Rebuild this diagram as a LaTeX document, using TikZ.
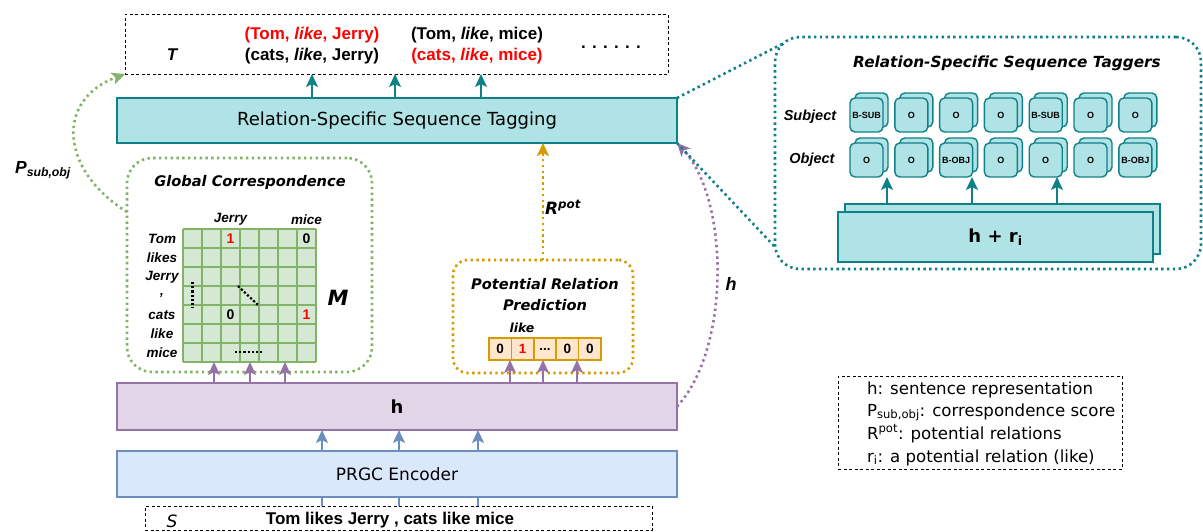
\documentclass[tikz,border=0pt]{standalone}
\usepackage{fontspec}
\setmainfont{Liberation Sans}
\newfontfamily\comicfont{DejaVu Sans}
\usetikzlibrary{arrows.meta,calc}

\definecolor{tealfill}{HTML}{B0E3E6}
\definecolor{tealline}{HTML}{0E8088}
\definecolor{purpfill}{HTML}{E1D5E7}
\definecolor{purpline}{HTML}{9673A6}
\definecolor{bluefill}{HTML}{DAE8FC}
\definecolor{blueline}{HTML}{6C8EBF}
\definecolor{grnfill}{HTML}{D5E8D4}
\definecolor{grnline}{HTML}{82B366}
\definecolor{orgfill}{HTML}{FFE6CC}
\definecolor{orgline}{HTML}{D79B00}
\definecolor{redtxt}{HTML}{FF0000}

\newcommand{\fsz}[1]{\fontsize{#1}{#1}\selectfont}
\newcommand{\celldots}{...}

\tikzset{
  layerbox/.style={draw=#1line,fill=#1fill,line width=1.8pt,minimum width=560pt,minimum height=45pt,
    font=\comicfont\fsz{18}},
  dashbox/.style={draw,dash pattern=on 3pt off 2.5pt,line width=1pt},
  dotline/.style={line width=2.6pt,dash pattern=on 2.4pt off 3.4pt},
  tip/.style={-{Stealth[length=13pt,width=12pt,inset=3pt]}},
  arr/.style={tip,line width=1.8pt},
  tagbox/.style={draw=tealline,fill=tealfill,line width=1.4pt,rounded corners=5pt,
    minimum width=33pt,minimum height=34pt,font=\fsz{9}\bfseries},
  title/.style={font=\comicfont\bfseries\itshape\fsz{14.6}},
  wlab/.style={font=\fsz{13.5}\bfseries\itshape}
}

\begin{document}
\begin{tikzpicture}[x=1pt,y=-1pt,every node/.style={inner sep=0pt,outer sep=0pt}]
\useasboundingbox (0,0) rectangle (1203,531);

\node[dashbox,minimum width=543pt,minimum height=60pt] (T) at (396.5,44) {};
\node[font=\fsz{17}\bfseries\itshape] (tlab) at (172,55) {T};
\begin{scope}[every node/.append style={font=\fsz{17}\bfseries}]
\node[text=redtxt] (tr1) at (312,35) {(Tom, \textit{like}, Jerry)};
\node (tr2) at (312,56) {(cats, \textit{like}, Jerry)};
\node (tr3) at (477,35) {(Tom, \textit{like}, mice)};
\node[text=redtxt] (tr4) at (477,56) {(cats, \textit{like}, mice)};
\node (more) at (611,47) {. . . . . .};
\end{scope}

\node[layerbox=teal] (rsst) at (397,120.5) {Relation-Specific Sequence Tagging};
\node[layerbox=purp,minimum height=47pt] (h) at (397,406.5) {\bfseries h};
\node[layerbox=blue,minimum height=46pt,font=\comicfont\fsz{17}] (enc) at (397,474) {PRGC Encoder};
\node[dashbox,minimum width=507pt,minimum height=24pt] (S) at (398.5,518) {};
\node[font=\comicfont\itshape\fsz{17}] (slab) at (172,521) {S};
\node[font=\fsz{17}\bfseries] (sent) at (390,520) {Tom likes Jerry , cats like mice};

\foreach \x in {312,395,481}
  \draw[arr,tealline] (rsst.north -| \x,0) -- (T.south -| \x,0);
\foreach \x in {322,399,478}
{
  \draw[arr,blueline] (enc.north -| \x,0) -- (h.south -| \x,0);
  \draw[blueline,line width=1.8pt] (S.north -| \x,0) -- (enc.south -| \x,0);
}

\node[draw=grnline,dotline,rounded corners=25pt,minimum width=245pt,minimum height=214pt] (gc) at (249.5,265) {};
\node[title] (gctitle) at (250,182) {Global Correspondence};
\node[fill=grnfill,minimum size=133pt] (mat) at (249.5,295.5) {};
\foreach \i in {0,...,7}
{
  \draw[grnline,line width=1.6pt] (183+19*\i,229) -- (183+19*\i,362);
  \draw[grnline,line width=1.6pt] (183,229+19*\i) -- (316,229+19*\i);
}
\foreach \w [count=\r] in {Tom,likes,Jerry,{,},cats,like,mice}
  \node[wlab] (row\r) at (162,220+19*\r) {\w};
\node[wlab] (colj) at (230.5,219) {Jerry};
\node[wlab] (colm) at (306.5,220) {mice};
\begin{scope}[every node/.append style={font=\fsz{14}\bfseries}]
\node[text=redtxt] (m13) at (230.5,239) {1};
\node (m17) at (306.5,239) {0};
\node (m53) at (230.5,315) {0};
\node[text=redtxt] (m57) at (306.5,315) {1};
\end{scope}
\draw[line width=2.2pt,dash pattern=on 2.2pt off 2pt] (192.5,282) -- (192.5,308);
\draw[line width=2.2pt,dash pattern=on 2.2pt off 2pt] (238,286) -- (258,305);
\draw[line width=2.2pt,dash pattern=on 2.2pt off 2pt] (235,352) -- (263,352);
\node[font=\comicfont\bfseries\itshape\fsz{21}] (mlab) at (338,298) {M};
\foreach \x in {214,250,285}
  \draw[arr,purpline] (h.north -| \x,0) -- (mat.south -| \x,0);

\node[draw=orgline,dotline,rounded corners=15pt,minimum width=180pt,minimum height=113pt] (prp) at (543,316.5) {};
\node[title,font=\comicfont\bfseries\itshape\fontsize{14.6}{21}\selectfont,align=center] (prptitle) at (545,295) {Potential Relation\\Prediction};
\node[font=\comicfont\bfseries\itshape\fsz{12.5}] (like) at (522,328) {like};
\foreach \v/\c [count=\i] in {0/black,1/redtxt,\celldots/black,0/black,0/black}
  \node[draw=orgline,fill=orgfill,line width=1.6pt,minimum width=22.4pt,minimum height=22pt,
    text=\c,font=\fsz{13.5}\bfseries] (v\i) at (477.8+22.4*\i,349) {\v};
\foreach \x in {510,543,577}
  \draw[arr,purpline] (h.north -| \x,0) -- (v1.south -| \x,0);

\draw[dotline,orgline,tip] (prp.north) -- (rsst.south -| prp.north);
\node[font=\comicfont\bfseries\itshape\fsz{17}] (rpot) at (563,207) {R\textsuperscript{pot}};

\draw[dotline,purpline,tip] (h.east) .. controls (730,350) and (730,200) .. (rsst.south east);
\node[font=\fsz{18}\bfseries\itshape] (hlab) at (731,284) {h};

\draw[dotline,grnline,tip] (gc.west |- 0,212) .. controls (60,170) and (55,100) .. (T.south west);
\node[font=\fsz{17.5}\bfseries\itshape] (plab) at (43,170) {P\textsubscript{sub,obj}};

\node[draw=tealline,dotline,rounded corners=25pt,minimum width=426pt,minimum height=232pt] (panel) at (988,153) {};
\node[title,font=\comicfont\bfseries\itshape\fsz{15.3}] (ptitle) at (1007,63) {Relation-Specific Sequence Taggers};
\node[font=\fsz{14.5}\bfseries\itshape] (subj) at (810,117) {Subject};
\node[font=\fsz{14.5}\bfseries\itshape] (obj) at (812,160) {Object};
\foreach \s/\o [count=\i] in {B-SUB/O,O/O,O/B-OBJ,O/O,B-SUB/O,O/O,O/B-OBJ}
{
  \node[tagbox] (sb\i) at (871.5+44.8*\i-44.8,110) {};
  \node[tagbox] (s\i) at (866.5+44.8*\i-44.8,115) {\s};
  \node[tagbox] (ob\i) at (871.5+44.8*\i-44.8,155) {};
  \node[tagbox] (o\i) at (866.5+44.8*\i-44.8,160) {\o};
}
\node[layerbox=teal,minimum width=315pt,minimum height=50pt] (hrback) at (1002.5,229) {};
\node[layerbox=teal,minimum width=315pt,minimum height=50pt,font=\comicfont\bfseries\fsz{18}] (hr) at (995.5,237) {h + r\textsubscript{i}};
\foreach \x in {887,972,1057}
  \draw[arr,tealline] (hrback.north -| \x,0) -- (o1.south -| \x,0);

\draw[dotline,tealline] (rsst.north east) -- ($(panel.north west)+(7,7)$);
\draw[dotline,tealline] (rsst.south east) -- (panel.west |- 0,247);

\node[dashbox,minimum width=284pt,minimum height=93pt] (legend) at (980,422.5) {};
\begin{scope}[every node/.append style={anchor=base west,font=\comicfont\fsz{16.6}}]
\node (leg1) at (867,394) {h: sentence representation};
\node (leg2) at (867,416) {P\textsubscript{sub,obj}: correspondence score};
\node (leg3) at (867,439) {R\textsuperscript{pot}: potential relations};
\node (leg4) at (867,462) {r\textsubscript{i}: a potential relation (like)};
\end{scope}
\end{tikzpicture}
\end{document}
